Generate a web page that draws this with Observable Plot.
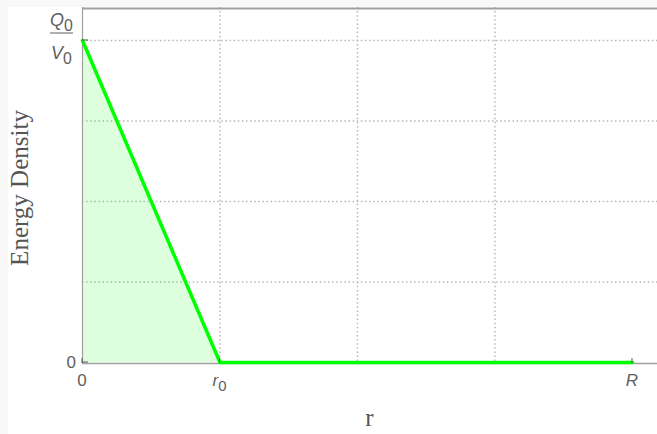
<!DOCTYPE html>
<html>
<head>
<meta charset="utf-8">
<script src="https://cdn.jsdelivr.net/npm/d3@7"></script>
<script src="https://cdn.jsdelivr.net/npm/@observablehq/plot@0.6"></script>
<style>
  html, body { margin: 0; padding: 0; background: #f8f8f8; }
  #chart { position: absolute; left: 0; top: 0; width: 657px; height: 434px; }
</style>
</head>
<body>
<div id="chart"></div>
<script>
// Energy density inside a sphere: falls linearly from Q0/V0 at the centre
// to zero at r0, and stays zero out to the outer radius R.
const radius = [0, 1, 4];        // r in units of r0: 0, r0, R
const density = [1, 0, 0];       // energy density in units of Q0/V0

const xTickValues = [0, 1, 4];
const xTickLabels = [[["0", false]], [["r", true], ["0", false, "sub"]], [["R", true]]];
const yTickValues = [0, 1];
const xGridValues = [1, 2, 3];
const yGridValues = [0.25, 0.5, 0.75, 1];

const xTitle = "r";
const yTitle = "Energy Density";

const profile = radius.map((r, i) => ({r, e: density[i]}));
const xDomain = [0, 4.182];
const yDomain = [-0.003, 1.1025];

const W = 657, H = 434;
const gridStyle = {stroke: "#b8b8b8", strokeWidth: 1.5, strokeDasharray: "1.5,2.6"};
const frameColor = "#a0a0a0";
const labelColor = "#606060";
const tickFont = "'Liberation Sans', Arial, sans-serif";
const titleFont = "'Liberation Serif', 'Times New Roman', serif";

const plot = Plot.plot({
  width: W,
  height: H,
  marginLeft: 82,
  marginRight: 0,
  marginTop: 7,
  marginBottom: 71,
  style: {background: "#f8f8f8", overflow: "visible"},
  x: {domain: xDomain, axis: null},
  y: {domain: yDomain, axis: null},
  marks: [
    Plot.ruleX(xGridValues, gridStyle),
    Plot.ruleY(yGridValues, gridStyle),
    Plot.areaY(profile, {x: "r", y: "e", fill: "#00ff00", fillOpacity: 0.13}),
    Plot.ruleX([xDomain[0]], {stroke: frameColor, strokeWidth: 1.2}),
    Plot.ruleY([yDomain[0]], {stroke: frameColor, strokeWidth: 1.6}),
    Plot.ruleY([yDomain[1]], {stroke: frameColor, strokeWidth: 2, dy: 1}),
    Plot.line(profile, {x: "r", y: "e", stroke: "#00ff00", strokeWidth: 3.5})
  ]
});

document.getElementById("chart").appendChild(plot);

const svg = d3.select(plot);
// white canvas inside the thin grey border
svg.insert("rect", ":first-child")
  .attr("x", 8).attr("y", 7).attr("width", W - 8).attr("height", H - 7)
  .attr("fill", "#fff");

// Ticks and labels with sub-scripted symbols, placed through the plot's own scales.
const sx = v => plot.scale("x").apply(v);
const sy = v => plot.scale("y").apply(v);
const g = svg.append("g");
const x0 = sx(xDomain[0]);
const yBottom = sy(yDomain[0]);

// inward tick marks
g.selectAll("line.xt").data(xTickValues).join("line")
  .attr("x1", d => sx(d)).attr("x2", d => sx(d))
  .attr("y1", yBottom).attr("y2", yBottom - 5)
  .attr("stroke", "#555").attr("stroke-width", 1);
g.selectAll("line.yt").data(yTickValues).join("line")
  .attr("x1", x0).attr("x2", x0 + 6)
  .attr("y1", d => sy(d)).attr("y2", d => sy(d))
  .attr("stroke", "#555").attr("stroke-width", 1);

function writeParts(text, parts, size) {
  for (const [s, italic, sub] of parts) {
    const t = text.append("tspan").text(s)
      .attr("font-style", italic ? "italic" : "normal");
    if (sub) t.attr("font-size", size * 0.88).attr("dy", 5);
  }
}

// x tick labels
xTickValues.forEach((v, i) => {
  const t = g.append("text")
    .attr("x", sx(v)).attr("y", yBottom + 23)
    .attr("text-anchor", "middle")
    .attr("font-family", tickFont).attr("font-size", 17)
    .attr("fill", labelColor);
  writeParts(t, xTickLabels[i], 17);
});

// y tick label 0
g.append("text")
  .attr("x", x0 - 6).attr("y", sy(yTickValues[0]) + 6)
  .attr("text-anchor", "end")
  .attr("font-family", tickFont).attr("font-size", 17)
  .attr("fill", labelColor).text("0");

// y tick label Q0 / V0 as a stacked fraction
const fx = x0 - 20.5;
const fy = sy(yTickValues[1]) - 7;
const num = g.append("text").attr("x", fx).attr("y", fy - 7)
  .attr("text-anchor", "middle").attr("font-family", tickFont)
  .attr("font-size", 18).attr("fill", labelColor);
writeParts(num, [["Q", true], ["0", false, "sub"]], 18);
const den = g.append("text").attr("x", fx).attr("y", fy + 26)
  .attr("text-anchor", "middle").attr("font-family", tickFont)
  .attr("font-size", 18).attr("fill", labelColor);
writeParts(den, [["V", true], ["0", false, "sub"]], 18);
g.append("line")
  .attr("x1", fx - 11.5).attr("x2", fx + 11.5)
  .attr("y1", fy).attr("y2", fy)
  .attr("stroke", labelColor).attr("stroke-width", 1);

// axis titles
g.append("text")
  .attr("x", (x0 + W) / 2).attr("y", yBottom + 63)
  .attr("text-anchor", "middle")
  .attr("font-family", titleFont).attr("font-size", 25)
  .attr("fill", "#555").text(xTitle);
g.append("text")
  .attr("transform", `translate(28,${(yBottom + sy(yDomain[1])) / 2 + 3}) rotate(-90)`)
  .attr("text-anchor", "middle")
  .attr("font-family", titleFont).attr("font-size", 25)
  .attr("fill", "#555").text(yTitle);
</script>
</body>
</html>
